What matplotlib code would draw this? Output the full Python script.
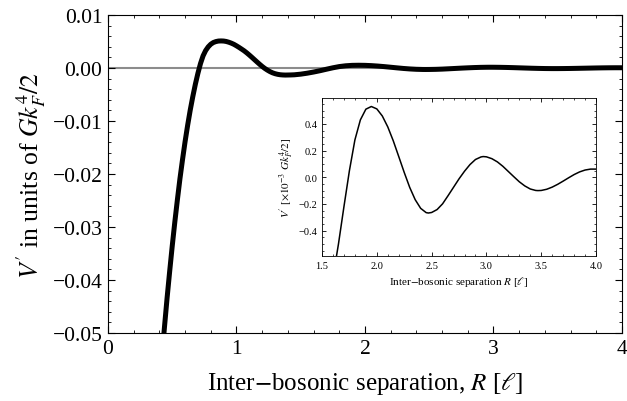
import matplotlib
matplotlib.use('Agg')
import matplotlib.pyplot as plt
from matplotlib.ticker import MultipleLocator, FuncFormatter

# Inter-bosonic separation R (in units of l)
R = [0.43, 0.44, 0.46, 0.48, 0.50, 0.52, 0.54, 0.56, 0.58, 0.60, 0.62,
     0.64, 0.66, 0.68, 0.70, 0.72, 0.74, 0.76, 0.78, 0.80, 0.82,
     0.84, 0.86, 0.88, 0.90, 0.92, 0.94, 0.96, 0.98, 1.00, 1.02,
     1.04, 1.06, 1.08, 1.10, 1.12, 1.14, 1.16, 1.18, 1.20, 1.22,
     1.24, 1.26, 1.28, 1.30, 1.32, 1.34, 1.36, 1.38, 1.40, 1.42,
     1.45, 1.50, 1.55, 1.60, 1.65, 1.70, 1.75, 1.80, 1.85, 1.90,
     1.95, 2.00, 2.05, 2.10, 2.15, 2.20, 2.25, 2.30, 2.35, 2.40,
     2.45, 2.47, 2.50, 2.55, 2.60, 2.65, 2.70, 2.75, 2.80, 2.85,
     2.90, 2.95, 2.97, 3.00, 3.05, 3.10, 3.15, 3.20, 3.25, 3.30,
     3.35, 3.40, 3.45, 3.47, 3.50, 3.55, 3.60, 3.65, 3.70, 3.75,
     3.80, 3.85, 3.90, 3.95, 4.00]

# V' in units of 1e-3 G kF^4 / 2
V_e3 = [-51.6, -48.8, -43.4, -38.4, -33.6, -29.1, -24.9, -20.9, -17.3, -13.9, -10.8,
        -7.95, -5.4, -3.06, -0.98, 0.85, 2.3, 3.3, 4.0, 4.5, 4.82,
        5.0, 5.1, 5.12, 5.10, 5.02, 4.88, 4.70, 4.48, 4.20, 3.90,
        3.58, 3.25, 2.87, 2.46, 2.03, 1.59, 1.15, 0.72, 0.31, -0.06,
        -0.38, -0.66, -0.89, -1.06, -1.18, -1.26, -1.30, -1.32, -1.31, -1.30,
        -1.27, -1.15, -0.97, -0.75, -0.50, -0.22, 0.05, 0.28, 0.43, 0.51,
        0.53, 0.512, 0.459, 0.377, 0.273, 0.155, 0.036, -0.076, -0.168, -0.233,
        -0.265, -0.268, -0.264, -0.242, -0.199, -0.138, -0.075, -0.012, 0.045, 0.095,
        0.133, 0.152, 0.155, 0.153, 0.139, 0.115, 0.082, 0.043, 0.004, -0.034,
        -0.065, -0.088, -0.099, -0.100, -0.099, -0.090, -0.074, -0.053, -0.029, -0.004,
        0.020, 0.040, 0.054, 0.061, 0.061]

V = [v * 1e-3 for v in V_e3]

plt.rcParams['font.family'] = ['Liberation Serif', 'DejaVu Serif']
plt.rcParams['mathtext.fontset'] = 'stix'


def fmt(decimals):
    def f(val, pos):
        s = f'{val:.{decimals}f}'
        if float(s) == 0:
            s = s.lstrip('-')
        return s.replace('-', '\u2212')
    return FuncFormatter(f)


fig = plt.figure(figsize=(6.27, 4.02), dpi=100)
ax = fig.add_axes([0.1722, 0.1692, 0.8198, 0.7908])

ax.axhline(0, color='#8c8c8c', lw=1.5, zorder=1)
ax.plot(R, V, color='black', lw=3.6, zorder=2)

ax.set_xlim(0, 4)
ax.set_ylim(-0.05, 0.01)
ax.xaxis.set_major_locator(MultipleLocator(1))
ax.xaxis.set_minor_locator(MultipleLocator(0.2))
ax.yaxis.set_major_locator(MultipleLocator(0.01))
ax.yaxis.set_minor_locator(MultipleLocator(0.002))
ax.xaxis.set_major_formatter(fmt(0))
ax.yaxis.set_major_formatter(fmt(2))
ax.tick_params(which='both', direction='in', top=True, right=True, labelsize=15.5)
ax.tick_params(which='major', length=5, width=0.8, pad=4)
ax.tick_params(which='minor', length=2.5, width=0.6)
ax.set_xlabel(r'Inter$-$bosonic separation, $R$ [$\ell$]', fontsize=18, labelpad=9)
ax.set_ylabel(r"$V'$ in units of $Gk_F^4/2$", fontsize=18.5, labelpad=3)

# inset
axi = fig.add_axes([0.5136, 0.3607, 0.437, 0.3918])
R_in = [r for r in R if r >= 1.5]
V_in = [v for r, v in zip(R, V_e3) if r >= 1.5]
axi.plot(R_in, V_in, color='black', lw=1.1)
axi.set_xlim(1.5, 4.0)
axi.set_ylim(-0.59, 0.59)
axi.xaxis.set_major_locator(MultipleLocator(0.5))
axi.xaxis.set_minor_locator(MultipleLocator(0.1))
axi.yaxis.set_major_locator(MultipleLocator(0.2))
axi.yaxis.set_minor_locator(MultipleLocator(0.05))
axi.xaxis.set_major_formatter(fmt(1))
axi.yaxis.set_major_formatter(fmt(1))
axi.tick_params(which='both', direction='in', top=True, right=True, labelsize=7.5)
axi.tick_params(which='major', length=3, width=0.6)
axi.tick_params(which='minor', length=1.5, width=0.5)
for s in axi.spines.values():
    s.set_linewidth(0.6)
axi.set_xlabel(r'Inter$-$bosonic separation $R$ [$\ell$]', fontsize=8, labelpad=3)
axi.set_ylabel(r"$V'$ [$\times10^{-3}$ $Gk_F^4/2$]", fontsize=8, labelpad=2)

fig.savefig('out.png', dpi=100)
